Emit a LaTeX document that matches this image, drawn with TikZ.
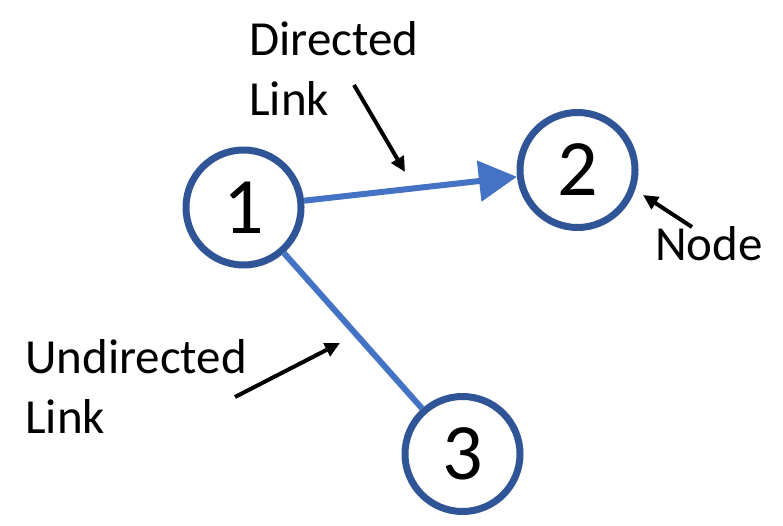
\documentclass[tikz,border=0pt]{standalone}
\usepackage{fontspec}
\setmainfont{Carlito}
\usetikzlibrary{arrows.meta}
\definecolor{ringblue}{HTML}{2F5597}
\definecolor{linkblue}{HTML}{4472C4}
\tikzset{
  vertex/.style = {draw=ringblue, circle, line width=7pt, minimum size=115pt, inner sep=0pt,
                   font=\fontsize{80}{80}\selectfont},
  link/.style   = {draw=linkblue, line width=6pt},
  note/.style   = {align=left, inner sep=0pt, anchor=north west, font=\fontsize{49}{60}\selectfont},
  pointer/.style = {draw=black, line width=4pt, -{Triangle[length=15pt,width=14pt]}}
}

\begin{document}
\begin{tikzpicture}[x=1pt,y=-1pt]
\useasboundingbox (0,0) rectangle (783,526);
\node[vertex] (n1) at (243.5,207.5) {1};
\node[vertex] (n2) at (577.5,170) {2};
\node[vertex] (n3) at (462.5,454) {3};
\draw[link,-{Triangle[length=38pt,width=40pt]}] (n1) -- (n2);
\draw[link] (n1) -- (n3);
% labels
\node[note] (dirlabel) at (249,21) {Directed\\Link};
\node[note] (undirlabel) at (25,339) {Undirected\\Link};
\node[note] (nodelabel) at (655,226) {Node};
\coordinate (dirtail) at (354,85);
\coordinate (dirtip) at (405,172);
\coordinate (undirtail) at (235,397);
\coordinate (undirtip) at (340,343);
\coordinate (nodetail) at (692,227);
\coordinate (nodetip) at (643,195);
\draw[pointer] (dirtail) -- (dirtip);
\draw[pointer] (undirtail) -- (undirtip);
\draw[pointer] (nodetail) -- (nodetip);
\end{tikzpicture}
\end{document}
